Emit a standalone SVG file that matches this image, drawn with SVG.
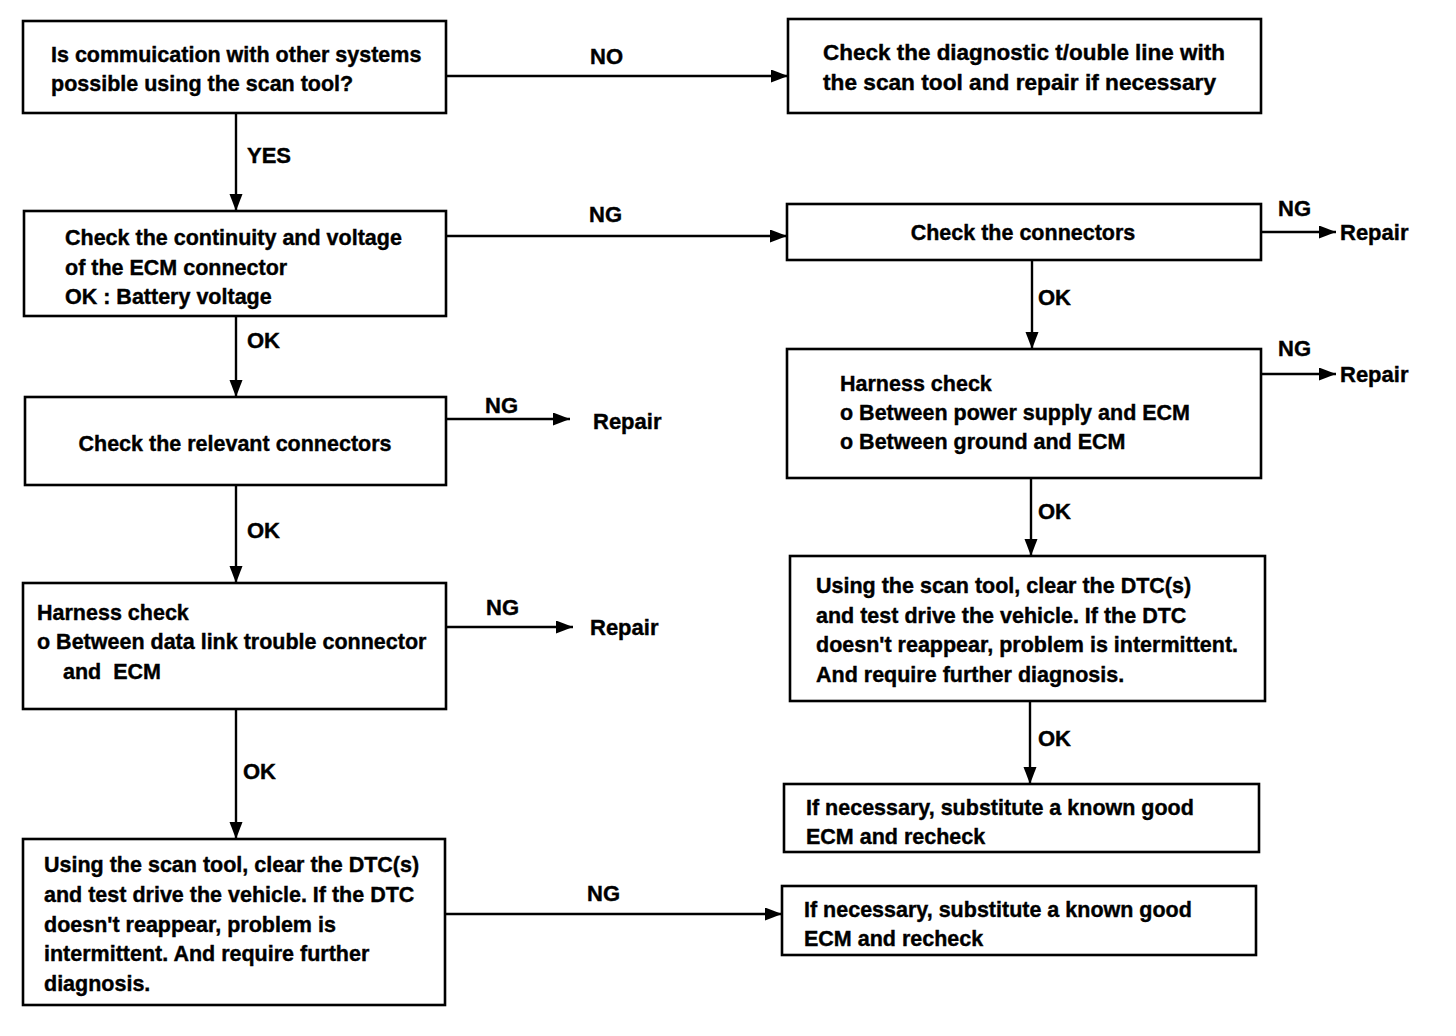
<svg xmlns="http://www.w3.org/2000/svg" width="1456" height="1036" viewBox="0 0 1456 1036">
<style>
.box{fill:#fff;stroke:#000;stroke-width:2.6}
.t{font-family:"Liberation Sans",Arial,sans-serif;font-weight:bold;font-size:21.5px;fill:#000;stroke:#000;stroke-width:0.4}
.c{text-anchor:middle}
.lbl{font-family:"Liberation Sans",Arial,sans-serif;font-weight:bold;font-size:22px;fill:#000;stroke:#000;stroke-width:0.4}
.ln{stroke:#000;stroke-width:2.4;fill:none;marker-end:url(#ah)}
</style>
<defs>
<marker id="ah" markerUnits="userSpaceOnUse" markerWidth="18" markerHeight="14" refX="17" refY="6.5" orient="auto">
<path d="M0,0 L17,6.5 L0,13 z" fill="#000"/>
</marker>
</defs>
<rect width="1456" height="1036" fill="#fff"/>
<g id="connectors">
<line class="ln" x1="446" y1="76" x2="788" y2="76"/>
<line class="ln" x1="236" y1="113" x2="236" y2="211"/>
<line class="ln" x1="446" y1="236" x2="787" y2="236"/>
<line class="ln" x1="1261" y1="232" x2="1336" y2="232"/>
<line class="ln" x1="1032" y1="260" x2="1032" y2="349"/>
<line class="ln" x1="1261" y1="374" x2="1336" y2="374"/>
<line class="ln" x1="1031" y1="478" x2="1031" y2="556"/>
<line class="ln" x1="1030" y1="701" x2="1030" y2="784"/>
<line class="ln" x1="236" y1="316" x2="236" y2="397"/>
<line class="ln" x1="446" y1="419" x2="570" y2="419"/>
<line class="ln" x1="236" y1="485" x2="236" y2="583"/>
<line class="ln" x1="446" y1="627" x2="573" y2="627"/>
<line class="ln" x1="236" y1="709" x2="236" y2="839"/>
<line class="ln" x1="445" y1="914" x2="782" y2="914"/>
<text class="lbl" x="590" y="64">NO</text>
<text class="lbl" x="247" y="163">YES</text>
<text class="lbl" x="589" y="222">NG</text>
<text class="lbl" x="1278" y="216">NG</text>
<text class="lbl" x="1340" y="240">Repair</text>
<text class="lbl" x="1038" y="305">OK</text>
<text class="lbl" x="1278" y="356">NG</text>
<text class="lbl" x="1340" y="382">Repair</text>
<text class="lbl" x="1038" y="519">OK</text>
<text class="lbl" x="1038" y="746">OK</text>
<text class="lbl" x="247" y="348">OK</text>
<text class="lbl" x="485" y="413">NG</text>
<text class="lbl" x="593" y="429">Repair</text>
<text class="lbl" x="247" y="538">OK</text>
<text class="lbl" x="486" y="615">NG</text>
<text class="lbl" x="590" y="635">Repair</text>
<text class="lbl" x="243" y="779">OK</text>
<text class="lbl" x="587" y="901">NG</text>
</g>
<g id="n1"><rect class="box" x="23" y="21" width="423" height="92"/>
<text class="t" x="51" y="62">Is commuication with other systems</text>
<text class="t" x="51" y="91">possible using the scan tool?</text></g>
<g id="n2"><rect class="box" x="788" y="19" width="473" height="94"/>
<text class="t" x="823" y="60" textLength="402" lengthAdjust="spacingAndGlyphs">Check the diagnostic t/ouble line with</text>
<text class="t" x="823" y="90" textLength="393" lengthAdjust="spacingAndGlyphs">the scan tool and repair if necessary</text></g>
<g id="n3"><rect class="box" x="24" y="211" width="422" height="105"/>
<text class="t" x="65" y="245">Check the continuity and voltage</text>
<text class="t" x="65" y="275">of the ECM connector</text>
<text class="t" x="65" y="304">OK : Battery voltage</text></g>
<g id="n4"><rect class="box" x="787" y="204" width="474" height="56"/>
<text class="t c" x="1023" y="240">Check the connectors</text></g>
<g id="n5"><rect class="box" x="787" y="349" width="474" height="129"/>
<text class="t" x="840" y="391">Harness check</text>
<text class="t" x="840" y="420">o Between power supply and ECM</text>
<text class="t" x="840" y="449">o Between ground and ECM</text></g>
<g id="n6"><rect class="box" x="790" y="556" width="475" height="145"/>
<text class="t" x="816" y="593">Using the scan tool, clear the DTC(s)</text>
<text class="t" x="816" y="623">and test drive the vehicle. If the DTC</text>
<text class="t" x="816" y="652">doesn't reappear, problem is intermittent.</text>
<text class="t" x="816" y="682">And require further diagnosis.</text></g>
<g id="n7"><rect class="box" x="784" y="784" width="475" height="68"/>
<text class="t" x="806" y="815">If necessary, substitute a known good</text>
<text class="t" x="806" y="844">ECM and recheck</text></g>
<g id="n8"><rect class="box" x="782" y="886" width="474" height="69"/>
<text class="t" x="804" y="917">If necessary, substitute a known good</text>
<text class="t" x="804" y="946">ECM and recheck</text></g>
<g id="n9"><rect class="box" x="25" y="397" width="421" height="88"/>
<text class="t c" x="235" y="451">Check the relevant connectors</text></g>
<g id="n10"><rect class="box" x="23" y="583" width="423" height="126"/>
<text class="t" x="37" y="620">Harness check</text>
<text class="t" x="37" y="649">o Between data link trouble connector</text>
<text class="t" x="63" y="679" xml:space="preserve">and  ECM</text></g>
<g id="n11"><rect class="box" x="23" y="839" width="422" height="166"/>
<text class="t" x="44" y="872">Using the scan tool, clear the DTC(s)</text>
<text class="t" x="44" y="902">and test drive the vehicle. If the DTC</text>
<text class="t" x="44" y="932">doesn't reappear, problem is</text>
<text class="t" x="44" y="961">intermittent. And require further</text>
<text class="t" x="44" y="991">diagnosis.</text></g>
</svg>
